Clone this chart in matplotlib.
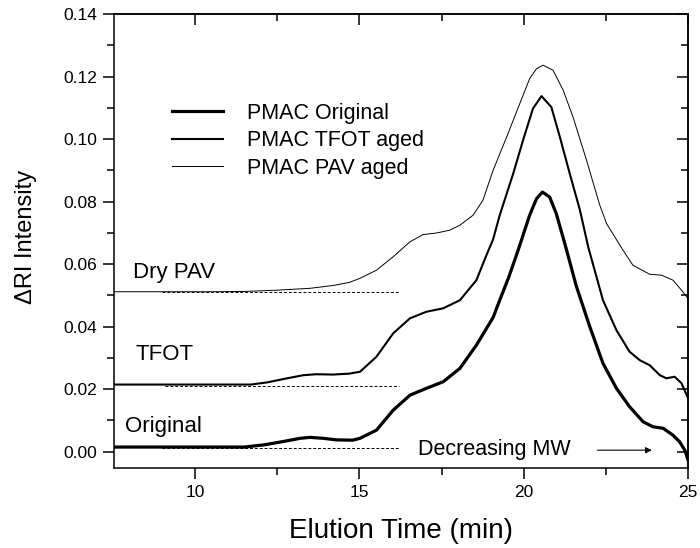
import numpy as np
import matplotlib
matplotlib.use("Agg")
from matplotlib import pyplot as plt
from matplotlib.ticker import MultipleLocator, FormatStrFormatter

plt.rcParams['font.family'] = ['Liberation Sans', 'DejaVu Sans']

# Elution time (min) and Delta RI intensity
t_orig = [7.54, 9.0, 10.5, 11.5, 12.1, 12.7, 13.2, 13.5, 13.9, 14.3, 14.8, 15.02,
          15.52, 16.03, 16.54, 17.04, 17.55, 18.06, 18.56, 19.07, 19.27, 19.55,
          19.83, 20.18, 20.39, 20.57, 20.79, 20.99, 21.25, 21.6, 22.01, 22.41,
          22.82, 23.22, 23.63, 23.93, 24.24, 24.54, 24.74, 24.9, 25.0]
v_orig = [0.0015, 0.0015, 0.0015, 0.0015, 0.0022, 0.0033, 0.0043, 0.0046, 0.0043,
          0.0038, 0.0037, 0.0043, 0.0069, 0.0133, 0.0181, 0.0203, 0.0224, 0.0267,
          0.0341, 0.0430, 0.0485, 0.0560, 0.0645, 0.0757, 0.0810, 0.0831, 0.0815,
          0.0762, 0.0666, 0.0530, 0.0400, 0.0283, 0.0203, 0.0144, 0.0096, 0.0080,
          0.0075, 0.0053, 0.0032, 0.0005, -0.0027]

t_tfot = [7.54, 9.0, 10.5, 11.7, 12.2, 12.8, 13.3, 13.7, 14.2, 14.7, 15.02, 15.52,
          16.03, 16.54, 17.04, 17.55, 18.06, 18.56, 18.87, 19.07, 19.27, 19.68,
          19.98, 20.28, 20.54, 20.84, 21.1, 21.4, 21.71, 21.96, 22.41, 22.82,
          23.22, 23.53, 23.83, 24.14, 24.34, 24.59, 24.8, 25.0]
v_tfot = [0.0215, 0.0215, 0.0215, 0.0215, 0.0222, 0.0235, 0.0245, 0.0248, 0.0247,
          0.0250, 0.0256, 0.0304, 0.0379, 0.0427, 0.0448, 0.0459, 0.0485, 0.0549,
          0.0630, 0.0680, 0.0757, 0.0890, 0.0997, 0.1098, 0.1138, 0.1103, 0.1007,
          0.0890, 0.0773, 0.0656, 0.0485, 0.0389, 0.0320, 0.0293, 0.0277, 0.0245,
          0.0235, 0.0240, 0.0219, 0.0171]

t_pav = [7.54, 9.0, 10.5, 11.5, 12.5, 13.5, 14.2, 14.7, 15.02, 15.52, 16.03, 16.54,
         16.94, 17.35, 17.75, 18.06, 18.46, 18.76, 19.07, 19.48, 19.88, 20.18,
         20.39, 20.59, 20.89, 21.2, 21.5, 21.91, 22.31, 22.52, 23.02, 23.32,
         23.83, 24.19, 24.54, 24.8, 25.0]
v_pav = [0.0512, 0.0512, 0.0512, 0.0513, 0.0517, 0.0523, 0.0532, 0.0542, 0.0555,
         0.0581, 0.0624, 0.0672, 0.0695, 0.0700, 0.0709, 0.0725, 0.0757, 0.0805,
         0.0901, 0.1007, 0.1114, 0.1194, 0.1226, 0.1237, 0.1221, 0.1157, 0.1071,
         0.0933, 0.0790, 0.0730, 0.0645, 0.0597, 0.0568, 0.0565, 0.0549, 0.0517,
         0.0490]

# dashed baselines (start, end, level)
base_start = [9.0, 9.1, 9.0]
base_end = [16.25, 16.2, 16.2]
base_level = [0.0013, 0.0211, 0.0510]

series_labels = ["PMAC Original", "PMAC TFOT aged", "PMAC PAV aged"]
curve_labels = ["Original", "TFOT", "Dry PAV"]

fig = plt.figure(figsize=(7.0, 5.48), dpi=100)
ax = fig.add_axes([0.163, 0.146, 0.82, 0.828])

l1, = ax.plot(t_orig, v_orig, color='black', lw=2.3)
l2, = ax.plot(t_tfot, v_tfot, color='black', lw=1.5)
l3, = ax.plot(t_pav, v_pav, color='black', lw=0.7)

for s, e, lv in zip(base_start, base_end, base_level):
    ax.plot([s, e], [lv, lv], color='black', lw=0.7, ls=(0, (3, 2)), zorder=1)

ax.text(7.87, 0.0081, curve_labels[0], fontsize=16, va='center')
ax.text(8.18, 0.0311, curve_labels[1], fontsize=16, va='center')
ax.text(8.12, 0.0575, curve_labels[2], fontsize=16, va='center')
ax.text(16.78, 0.0007, "Decreasing MW", fontsize=15.5, va='center')
ax.annotate("", xy=(23.98, 0.0005), xytext=(22.16, 0.0005),
            arrowprops=dict(arrowstyle='-|>', color='black', lw=0.8,
                            mutation_scale=9))

ax.legend([l1, l2, l3], series_labels, loc='upper left',
          bbox_to_anchor=(0.1005, 0.805), frameon=False, fontsize=15.5,
          handlelength=2.4, handletextpad=1.1, labelspacing=0.3,
          borderpad=0, borderaxespad=0)

ax.set_xlim(7.54, 25.0)
ax.set_ylim(-0.0052, 0.14)
ax.xaxis.set_major_locator(MultipleLocator(5))
ax.xaxis.set_minor_locator(MultipleLocator(2.5))
ax.yaxis.set_major_locator(MultipleLocator(0.02))
ax.yaxis.set_minor_locator(MultipleLocator(0.01))
ax.yaxis.set_major_formatter(FormatStrFormatter('%.2f'))
ax.tick_params(which='both', direction='out', width=1.1, labelsize=12.5, pad=4)
ax.tick_params(which='major', length=8)
ax.tick_params(which='minor', length=5)

top = ax.secondary_xaxis('top')
top.xaxis.set_major_locator(MultipleLocator(5))
top.xaxis.set_minor_locator(MultipleLocator(2.5))
top.tick_params(which='both', direction='in', width=1.1, labeltop=False)
top.tick_params(which='major', length=8)
top.tick_params(which='minor', length=5)
right = ax.secondary_yaxis('right')
right.yaxis.set_major_locator(MultipleLocator(0.02))
right.yaxis.set_minor_locator(MultipleLocator(0.01))
right.tick_params(which='both', direction='in', width=1.1, labelright=False)
right.tick_params(which='major', length=8)
right.tick_params(which='minor', length=5)
for sp in list(ax.spines.values()) + [top.spines['top'], right.spines['right']]:
    sp.set_linewidth(1.1)

ax.set_xlabel("Elution Time (min)", fontsize=20, labelpad=13)
ax.set_ylabel("\u0394RI Intensity", fontsize=17)
ax.yaxis.set_label_coords(-0.134, 0.51)

fig.savefig("out.png", dpi=100)
